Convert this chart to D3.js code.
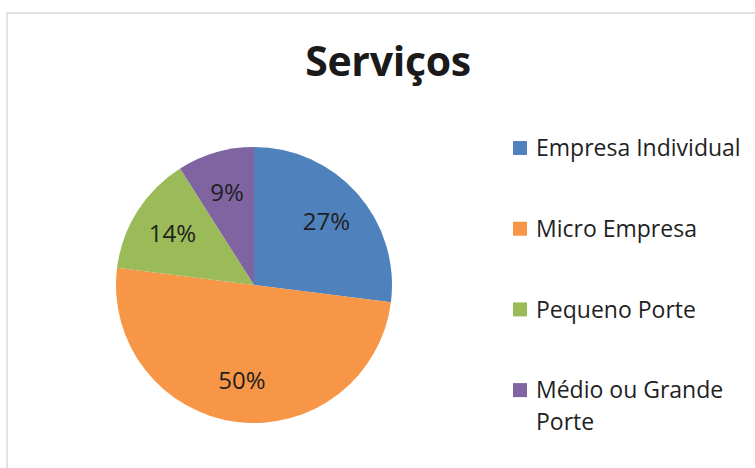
<!DOCTYPE html>
<html>
<head>
<meta charset="utf-8">
<script src="https://cdn.jsdelivr.net/npm/d3@7"></script>
<style>
  body { margin: 0; background: #fff; }
  svg { display: block; }
</style>
</head>
<body>
<div id="chart"></div>
<script>
const title = 'Serviços'
const categories = ['Empresa Individual', 'Micro Empresa', 'Pequeno Porte', 'Médio ou Grande Porte']
const values = [27, 50, 14, 9]
const colors = ['#4F81BD', '#F79646', '#9BBB59', '#8064A2']

const width = 755, height = 468
const cx = 254, cy = 285, radius = 138
const font = '"Open Sans", "Noto Sans", sans-serif'

const svg = d3.select('#chart')
  .append('svg')
  .attr('width', width)
  .attr('height', height)

// chart area border (runs off the right and bottom edges)
svg.append('rect')
  .attr('x', 7)
  .attr('y', 13)
  .attr('width', width + 20)
  .attr('height', height + 20)
  .style('fill', 'none')
  .style('stroke', '#d9d9d9')
  .style('stroke-width', 1.5)

svg.append('text')
  .attr('x', 388)
  .attr('y', 76)
  .attr('text-anchor', 'middle')
  .style('font-family', font)
  .style('font-weight', 'bold')
  .style('font-size', '41px')
  .style('letter-spacing', '-0.3px')
  .style('fill', '#1a1a1a')
  .text(title)

const pie = d3.pie().sort(null).value(d => d)
const arc = d3.arc().innerRadius(0).outerRadius(radius)
const labelArc = d3.arc().innerRadius(radius * 0.7).outerRadius(radius * 0.7)

const g = svg.append('g')
  .attr('transform', 'translate(' + cx + ',' + cy + ')')

const slices = g.selectAll('g.slice')
  .data(pie(values))
  .enter().append('g')
  .classed('slice', true)

slices.append('path')
  .attr('d', arc)
  .style('fill', (d, i) => colors[i])

slices.append('text')
  .attr('transform', d => 'translate(' + labelArc.centroid(d) + ')')
  .attr('text-anchor', 'middle')
  .attr('dy', '0.36em')
  .style('font-family', font)
  .style('font-size', '24px')
  .style('fill', '#1f1f1f')
  .text(d => d.data + '%')

// legend
const legend = svg.append('g')
  .attr('transform', 'translate(513, 148)')

const item = legend.selectAll('g')
  .data(categories)
  .enter().append('g')
  .attr('transform', (d, i) => 'translate(0,' + i * 80.7 + ')')

item.append('rect')
  .attr('x', 0)
  .attr('y', -7)
  .attr('width', 14)
  .attr('height', 14)
  .style('fill', (d, i) => colors[i])

const legendText = item.append('text')
  .attr('x', 23)
  .attr('y', 0)
  .style('font-family', font)
  .style('font-size', '23px')
  .style('fill', '#1f1f1f')

// wrap long labels like the original ("Médio ou Grande" / "Porte")
legendText.each(function(d) {
  const t = d3.select(this)
  const lines = d === 'Médio ou Grande Porte' ? ['Médio ou Grande', 'Porte'] : [d]
  lines.forEach((line, j) => {
    t.append('tspan')
      .attr('x', 23)
      .attr('dy', j === 0 ? '0.36em' : '32px')
      .text(line)
  })
})
</script>
</body>
</html>
